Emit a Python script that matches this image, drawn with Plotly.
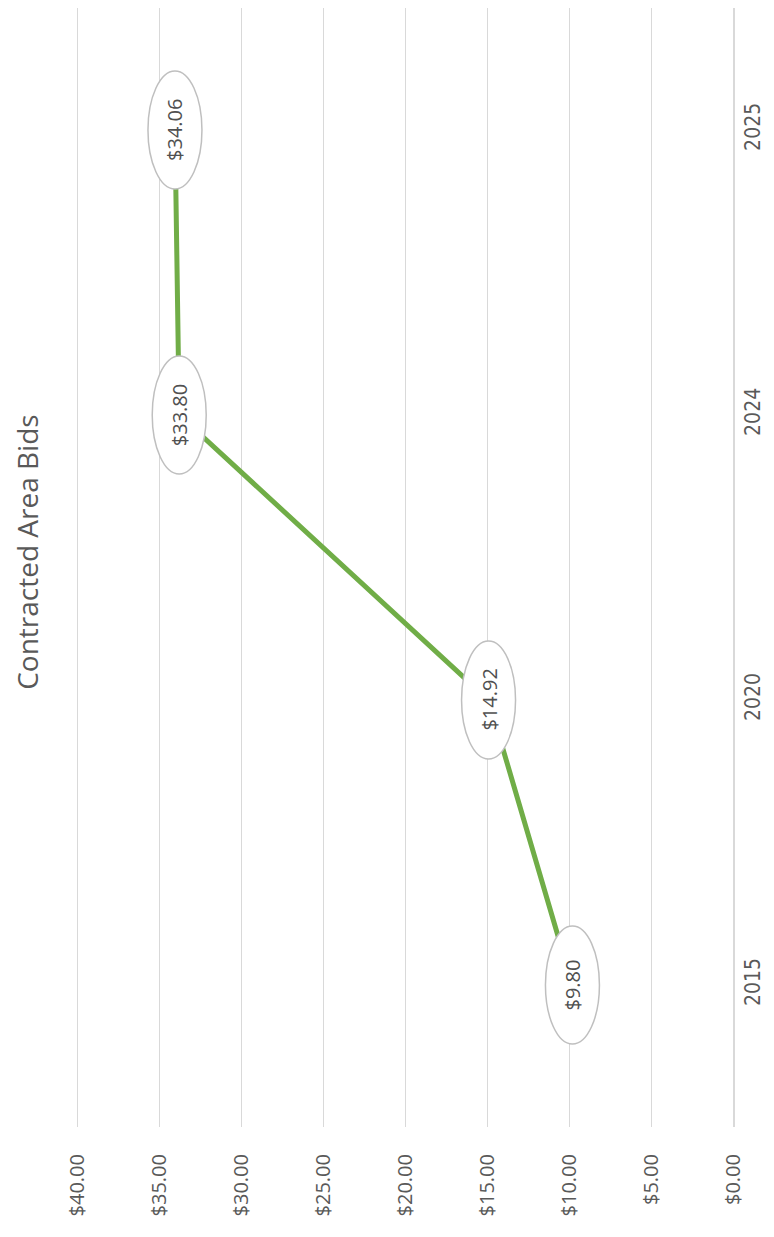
import plotly.graph_objects as go

categories = ["2015", "2020", "2024", "2025"]
values = [9.80, 14.92, 33.80, 34.06]
value_ticks = [0, 5, 10, 15, 20, 25, 30, 35, 40]
value_ticktext = ["$%.2f" % v for v in value_ticks]
title_text = "Contracted Area Bids"

pos = list(range(len(categories)))

fig = go.Figure()
fig.add_trace(go.Scatter(
    x=values, y=pos, mode="lines",
    line=dict(color="#70AD47", width=5),
    hoverinfo="skip", showlegend=False,
))

shapes = []
annotations = []
for p, v in zip(pos, values):
    shapes.append(dict(
        type="circle", xref="x", yref="y",
        xsizemode="pixel", ysizemode="pixel",
        xanchor=v, yanchor=p,
        x0=-27, x1=27, y0=-59, y1=59,
        fillcolor="white", line=dict(color="#BFBFBF", width=1.5),
        layer="above",
    ))
    annotations.append(dict(
        x=v, y=p, xref="x", yref="y", text="$%.2f" % v,
        showarrow=False, textangle=-90,
        font=dict(family="Open Sans, Liberation Sans, sans-serif", size=20, color="#505050"),
    ))

annotations.append(dict(
    x=-0.0746, y=0.514, xref="paper", yref="paper", text=title_text,
    showarrow=False, textangle=-90, xanchor="center", yanchor="middle",
    font=dict(family="Open Sans, Liberation Sans, sans-serif", size=28, color="#595959"),
))

fig.update_layout(
    width=758, height=1221,
    margin=dict(l=68, r=33, t=0, b=102),
    plot_bgcolor="white", paper_bgcolor="white",
    shapes=shapes, annotations=annotations,
    xaxis=dict(
        range=[40.1, 0], tickvals=value_ticks, ticktext=value_ticktext,
        tickangle=-90, showgrid=True, gridcolor="#D9D9D9", gridwidth=1.3,
        zeroline=False, showline=False, ticks="", automargin=False,
        ticklabelstandoff=22,
        tickfont=dict(family="Open Sans, Liberation Sans, sans-serif", size=20, color="#595959"),
    ),
    yaxis=dict(
        range=[-0.498, 3.428], tickvals=pos, ticktext=categories, side="right",
        showgrid=False, zeroline=False, showline=True, linecolor="#D9D9D9", linewidth=1.5,
        ticks="", tickangle=-90, ticklabelstandoff=0, automargin=False,
        tickfont=dict(family="Liberation Sans Narrow, DejaVu Sans Condensed, sans-serif", size=21, color="#595959"),
    ),
)

fig.write_html("out.html")
